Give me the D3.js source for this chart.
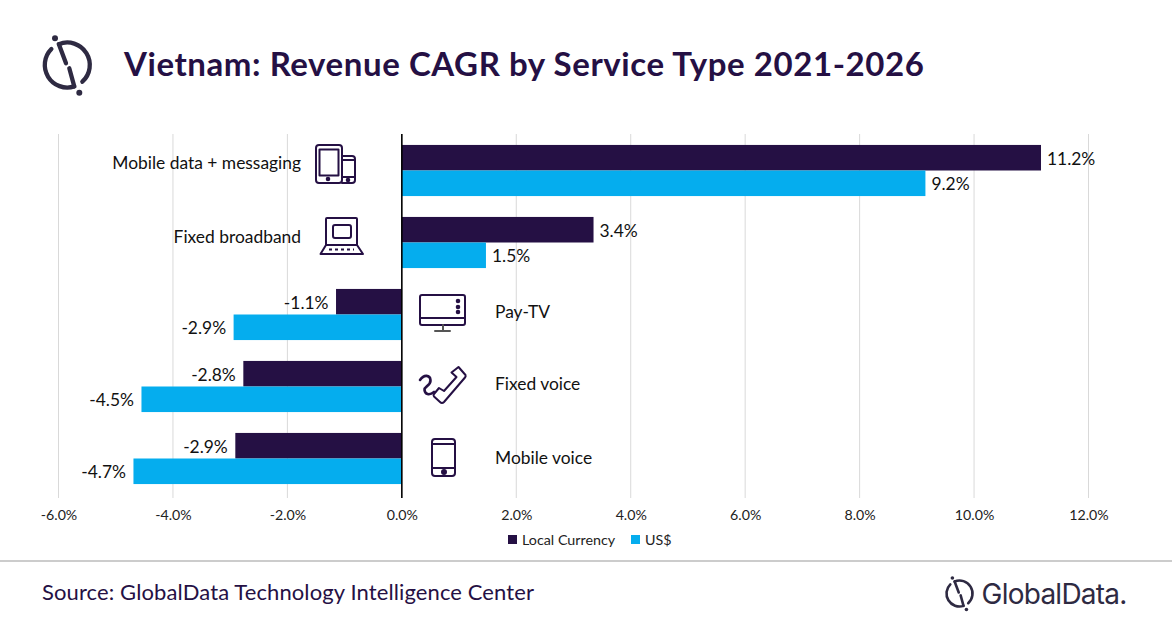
<!DOCTYPE html>
<html>
<head>
<meta charset="utf-8">
<script src="https://cdn.jsdelivr.net/npm/d3@7"></script>
<style>
  html, body { margin: 0; padding: 0; background: #fff; }
  svg { display: block; }
  text { font-family: Lato, "Open Sans", sans-serif; }
</style>
</head>
<body>
<svg id="chart" width="1172" height="628"></svg>
<script>
const categories = ["Mobile data + messaging", "Fixed broadband", "Pay-TV", "Fixed voice", "Mobile voice"];
const seriesNames = ["Local Currency", "US$"];
const localCurrency = [11.17, 3.35, -1.15, -2.77, -2.91];
const usDollar = [9.15, 1.47, -2.94, -4.55, -4.69];
const xTicks = [-6, -4, -2, 0, 2, 4, 6, 8, 10, 12];
const seriesColors = ["#251044", "#05adee"];

const navy = "#251044";
const svg = d3.select("#chart");

const x = d3.scaleLinear().domain([-6, 12]).range([58.5, 1088.5]);
const y = d3.scaleBand().domain(categories).range([134.5, 494.5]).paddingInner(0.29).paddingOuter(0.145);
const ySeries = d3.scaleBand().domain(seriesNames).range([0, y.bandwidth()]);

// 标题
svg.append("text").attr("x", 124).attr("y", 76)
  .attr("font-size", 33).attr("font-weight", 700).attr("fill", navy)
  .style("letter-spacing", "0.57px")
  .text("Vietnam: Revenue CAGR by Service Type 2021-2026");

// 网格线
svg.append("g").selectAll("line").data(xTicks.filter(d => d !== 0)).join("line")
  .attr("x1", d => x(d)).attr("x2", d => x(d))
  .attr("y1", 134).attr("y2", 498)
  .attr("stroke", "#d9d9d9").attr("stroke-width", 1);

// 柱子
const rows = categories.map((c, i) => ({ c, vals: [localCurrency[i], usDollar[i]] }));
const groups = svg.append("g").selectAll("g").data(rows).join("g")
  .attr("transform", d => `translate(0,${y(d.c)})`);

groups.selectAll("rect").data(d => d.vals).join("rect")
  .attr("x", d => Math.min(x(d), x(0)))
  .attr("y", (d, i) => ySeries(seriesNames[i]))
  .attr("width", d => Math.abs(x(d) - x(0)))
  .attr("height", ySeries.bandwidth())
  .attr("fill", (d, i) => seriesColors[i]);

groups.selectAll("text").data(d => d.vals).join("text")
  .attr("x", d => d < 0 ? x(d) - 7.5 : x(d) + 6)
  .attr("y", (d, i) => ySeries(seriesNames[i]) + ySeries.bandwidth() / 2 + 0.7)
  .attr("dy", "0.35em")
  .attr("text-anchor", d => d < 0 ? "end" : "start")
  .attr("font-size", 17.4).attr("fill", "#111")
  .text(d => d.toFixed(1) + "%");

// 零线
svg.append("line").attr("x1", x(0)).attr("x2", x(0)).attr("y1", 134).attr("y2", 498)
  .attr("stroke", "#000").attr("stroke-width", 1.6);

// x轴
const xAxis = svg.append("g").attr("transform", "translate(0,498)")
  .call(d3.axisBottom(x).tickValues(xTicks).tickSize(0).tickPadding(12).tickFormat(d => d.toFixed(1) + "%"));
xAxis.select(".domain").remove();
xAxis.selectAll("text").attr("font-size", 14.2).attr("fill", "#222").style("font-family", "Lato, sans-serif");

// 类别标签 (标签相对柱组中心的偏移)
const labelNudge = [-8, -6, -3, -2.5, -1];
svg.append("g").selectAll("text").data(rows).join("text")
  .attr("x", d => d.vals[0] >= 0 ? 301 : 495)
  .attr("y", (d, i) => y(d.c) + y.bandwidth() / 2 + labelNudge[i])
  .attr("dy", "0.35em")
  .attr("text-anchor", d => d.vals[0] >= 0 ? "end" : "start")
  .attr("font-size", 17.4).attr("fill", "#111")
  .text(d => d.c);

// 图标
const iconStyle = g => g.attr("fill", "none").attr("stroke", navy).attr("stroke-width", 2)
  .attr("stroke-linejoin", "round").attr("stroke-linecap", "round");

// tablet + phone
const ic1 = svg.append("g").call(iconStyle);
ic1.append("rect").attr("x", 316).attr("y", 145).attr("width", 26).attr("height", 38).attr("rx", 3);
ic1.append("rect").attr("x", 319.5).attr("y", 149.5).attr("width", 19).attr("height", 26);
ic1.append("path").attr("d", "M342 156 h10 q3 0 3 3 v21 q0 3 -3 3 h-10 M342 160 h13 M342 177 h13");
ic1.append("circle").attr("cx", 328).attr("cy", 179).attr("r", 1.3).attr("fill", navy);
ic1.append("circle").attr("cx", 348).attr("cy", 180).attr("r", 1.3).attr("fill", navy);

// laptop
const ic2 = svg.append("g").call(iconStyle);
ic2.append("path").attr("d", "M326 245 v-26 q0 -1 1 -1 h29 q1 0 1 1 v26");
ic2.append("rect").attr("x", 333).attr("y", 225).attr("width", 18).attr("height", 13).attr("rx", 2);
ic2.append("path").attr("d", "M326 245 L320.5 254 h42.5 L357 245 Z");
ic2.append("path").attr("d", "M329 249.5 h25").attr("stroke-dasharray", "3 3").attr("stroke-linecap", "butt");

// TV
const ic3 = svg.append("g").call(iconStyle);
ic3.append("rect").attr("x", 420).attr("y", 295).attr("width", 45).attr("height", 30).attr("rx", 2);
ic3.append("path").attr("d", "M420 318 h45");
ic3.append("path").attr("d", "M443 325 v6 M435 331 h15").attr("stroke", "#555");
[301, 307, 312].forEach(cy => ic3.append("circle").attr("cx", 458).attr("cy", cy).attr("r", 1.3).attr("fill", navy));

// phone
const ic4 = svg.append("g").call(iconStyle);
ic4.append("path").attr("d", "M458.5 367 L465.5 375 Q466 376.5 465 377.5 L444 402 Q442 404 440 402 L434 396.5 Q433 395 434 394 L439 388 L444 391 L456.5 377 L451.5 372.5 Z");
ic4.append("path").attr("d", "M434 392 C429 396 425 394 424.5 390 C424 386 431 386 430.5 380 C430 375 424 374 420 380").attr("stroke-width", 2.6);

// handset
const ic5 = svg.append("g").call(iconStyle);
ic5.append("rect").attr("x", 432).attr("y", 439).attr("width", 23).attr("height", 37).attr("rx", 3);
ic5.append("path").attr("d", "M432 444 h23 M432 468 h23");
ic5.append("circle").attr("cx", 444).attr("cy", 472).attr("r", 2).attr("fill", navy);

// 图例
const legendX = [508, 631];
const legend = svg.append("g").selectAll("g").data(seriesNames).join("g")
  .attr("transform", (d, i) => `translate(${legendX[i]},535)`);
legend.append("rect").attr("width", 9).attr("height", 9).attr("fill", (d, i) => seriesColors[i]);
legend.append("text").attr("x", 14).attr("y", 5).attr("dy", "0.35em")
  .attr("font-size", 14.3).attr("fill", "#222").text(d => d);

// 分隔线
svg.append("line").attr("x1", 0).attr("x2", 1172).attr("y1", 561).attr("y2", 561)
  .attr("stroke", "#999").attr("stroke-width", 1);

// 来源
svg.append("text").attr("x", 42).attr("y", 600)
  .attr("font-size", 22).attr("fill", navy).style("letter-spacing", "0.11px")
  .text("Source: GlobalData Technology Intelligence Center");

// 标志
function logo(cx, cy, r, sw, dotR) {
  const g = svg.append("g").attr("fill", "none").attr("stroke", "#2e2a42")
    .attr("stroke-width", sw).attr("stroke-linecap", "round");
  const p = (a) => [cx + r * Math.cos(a * Math.PI / 180), cy + r * Math.sin(a * Math.PI / 180)];
  const arcPath = (a0, a1) => {
    const s = p(a0), e = p(a1);
    const large = Math.abs(a1 - a0) > 180 ? 1 : 0;
    return `M${s[0]} ${s[1]} A${r} ${r} 0 ${large} 1 ${e[0]} ${e[1]}`;
  };
  const k = r / 22.5;
  const top = p(-112), bottom = p(72);
  g.append("path").attr("d", arcPath(-112, 48) );
  g.append("path").attr("d", arcPath(72, 225));
  g.append("path").attr("d", `M${top[0]} ${top[1]} L${cx - 1.3 * k} ${cy - 1.7 * k}`);
  g.append("path").attr("d", `M${cx + 2 * k} ${cy + 3.3 * k} L${bottom[0]} ${bottom[1]}`);
  g.append("circle").attr("cx", cx - 12.3 * k).attr("cy", cy - 26.7 * k).attr("r", dotR).attr("fill", "#2e2a42").attr("stroke", "none");
  g.append("circle").attr("cx", cx + 12 * k).attr("cy", cy + 27.7 * k).attr("r", dotR).attr("fill", "#2e2a42").attr("stroke", "none");
}
logo(67.3, 65, 22.5, 4.3, 3);
logo(959.5, 593.5, 13, 2.6, 1.8);

svg.append("text").attr("x", 981.5).attr("y", 603.5)
  .attr("font-size", 28).attr("font-weight", 400).attr("fill", "#2e2a42")
  .style("font-family", "Inter, sans-serif").style("letter-spacing", "-0.75px")
  .text("GlobalData.");
</script>
</body>
</html>
